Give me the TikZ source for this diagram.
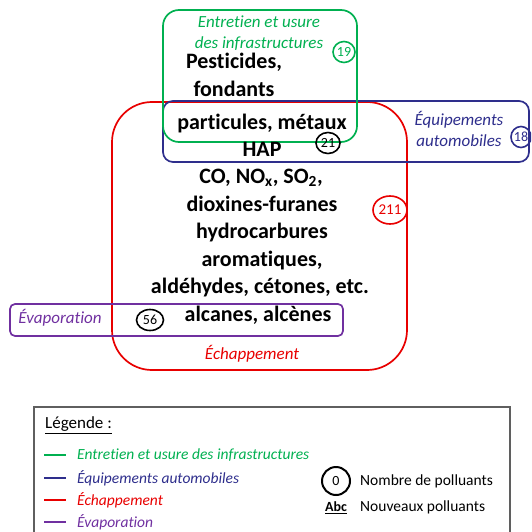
\documentclass[tikz,border=0pt]{standalone}
\usepackage{fontspec}
\setmainfont{Carlito}[RawFeature={-liga}]
\usetikzlibrary{shapes.geometric}
\definecolor{cgreen}{RGB}{0,176,80}
\definecolor{cblue}{RGB}{46,46,140}
\definecolor{cred}{RGB}{232,0,0}
\definecolor{cpurple}{RGB}{112,48,160}
\definecolor{cgray}{RGB}{95,95,95}
\begin{document}
\begin{tikzpicture}[x=1pt,y=-1pt,
  boxline/.style={line width=1.7pt},
  lab/.style={font=\fontsize{17}{21}\selectfont\itshape, align=center, inner sep=0pt},
  big/.style={font=\fontsize{22}{27}\selectfont\bfseries, text height=15pt, text depth=5pt, inner sep=0pt},
  num/.style={draw, ellipse, line width=1.6pt, inner sep=0pt, font=\fontsize{14}{16}\selectfont},
  leg/.style={font=\fontsize{15.5}{18}\selectfont, anchor=west, inner sep=0pt},
  legline/.style={line width=1.8pt}
]
\useasboundingbox (0,0) rectangle (531,532);
\clip (0,0) rectangle (531,532);
% boxes
\draw[boxline, cred, rounded corners=40pt] (112,102) rectangle (407,370);
\draw[boxline, cblue, rounded corners=10pt] (163,101) rectangle (529,162);
\draw[boxline, cgreen, rounded corners=16pt] (163,10) rectangle (357,142);
\draw[boxline, cpurple, rounded corners=5pt] (10,304) rectangle (343,336);
% category labels
\node[lab, text=cgreen] (lgreen) at (259,33) {Entretien et usure\\des infrastructures};
\node[lab, text=cblue] (lblue) at (459,129) {Équipements\\automobiles};
\node[lab, text=cpurple] (lpurple) at (60,318) {Évaporation};
\node[lab, text=cred] (lred) at (252,354) {Échappement};
% numbers
\node[num, cgreen, minimum width=22pt, minimum height=21pt] (n19) at (344,52) {19};
\node[num, black, minimum width=24pt, minimum height=21pt] (n21) at (328,143) {21};
\node[num, cblue, minimum width=20pt, minimum height=21pt] (n18) at (521,137) {18};
\node[num, cred, minimum width=34pt, minimum height=28pt, font=\fontsize{15}{17}\selectfont] (n211) at (390,210) {211};
\node[num, black, minimum width=27pt, minimum height=21pt] (n56) at (150,320) {56};
% pollutants
\node[big] (t1) at (234,64) {Pesticides,};
\node[big] (t2) at (234,91) {fondants};
\node[big] (t3) at (262,124) {particules, métaux};
\node[big] (t4) at (262,151) {HAP};
\node[big] (t5) at (261,178) {CO, NO\textsubscript{x}, SO\textsubscript{2},};
\node[big] (t6) at (262,206) {dioxines-furanes};
\node[big] (t7) at (262,233) {hydrocarbures};
\node[big] (t8) at (262,261) {aromatiques,};
\node[big] (t9) at (260,288) {aldéhydes, cétones, etc.};
\node[big] (t10) at (258,316) {alcanes, alcènes};
% legend
\draw[line width=1.5pt, cgray] (34,407) rectangle (510,545);
\node[leg, font=\fontsize{17}{20}\selectfont] (legt) at (45,425) {\underline{Légende :}};
\coordinate (g1) at (44,455); \coordinate (g2) at (66,455);
\coordinate (b1) at (44,478); \coordinate (b2) at (66,478);
\coordinate (r1) at (44,500); \coordinate (r2) at (66,500);
\coordinate (p1) at (44,522); \coordinate (p2) at (66,522);
\draw[legline, cgreen] (g1) -- (g2);
\draw[legline, cblue] (b1) -- (b2);
\draw[legline, cred] (r1) -- (r2);
\draw[legline, cpurple] (p1) -- (p2);
\node[leg, text=cgreen, font=\fontsize{15.5}{18}\selectfont\itshape] (lg) at (77,455) {Entretien et usure des infrastructures};
\node[leg, text=cblue, font=\fontsize{15.5}{18}\selectfont\itshape] (lb) at (77,478) {Équipements automobiles};
\node[leg, text=cred, font=\fontsize{15.5}{18}\selectfont\itshape] (lr) at (77,500) {Échappement};
\node[leg, text=cpurple, font=\fontsize{15.5}{18}\selectfont\itshape] (lp) at (77,522) {Évaporation};
\node[draw, circle, line width=2pt, minimum size=28pt, inner sep=0pt, font=\fontsize{14}{16}\selectfont] (n0) at (336,481) {0};
\node[leg] (ln) at (360,481) {Nombre de polluants};
\node[inner sep=0pt, font=\fontsize{14}{16}\selectfont\bfseries] (abc) at (336,508) {\underline{Abc}};
\node[leg] (lnv) at (360,507) {Nouveaux polluants};
\end{tikzpicture}
\end{document}
